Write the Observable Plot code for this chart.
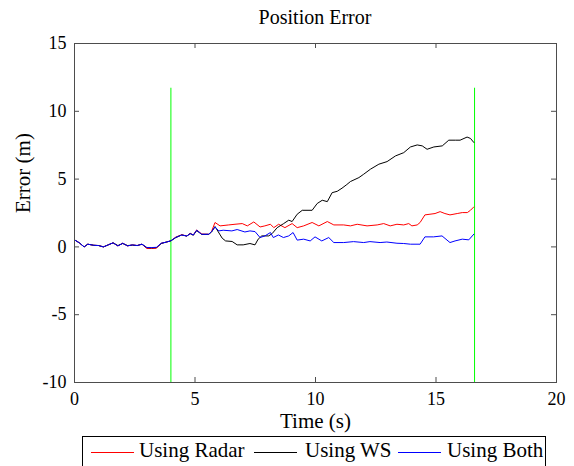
<!DOCTYPE html>
<html><head><meta charset="utf-8">
<script src="https://cdn.jsdelivr.net/npm/d3@7"></script>
<script src="https://cdn.jsdelivr.net/npm/@observablehq/plot@0.6"></script>
<style>
body{margin:0;background:#fff;font-family:"Liberation Serif","Times New Roman",serif;}
#wrap{position:relative;width:574px;height:466px;overflow:hidden;background:#fff;}
#chart{position:absolute;left:0;top:0;}
#title{position:absolute;left:74px;width:482px;top:7px;text-align:center;font-size:20px;line-height:20px;color:#000;}
#legend{position:absolute;left:82px;top:436px;width:464px;height:40px;border:1px solid #000;box-sizing:border-box;background:#fff;}
.sw{position:absolute;top:15px;width:43px;height:0;border-top:1px solid;}
.lab{position:absolute;top:3px;font-size:21px;line-height:21px;white-space:nowrap;color:#000;}
</style></head>
<body><div id="wrap"><div id="chart"></div><div id="title">Position Error</div><div id="legend"></div></div>
<script>
const seriesNames = ["Using Radar", "Using WS", "Using Both"];
const seriesColors = ["#ff0000", "#000000", "#0000ff"];

const radarTime = [0,0.2,0.4,0.55,0.8,1.0,1.2,1.4,1.6,1.8,2.0,2.2,2.4,2.6,2.8,3.0,3.2,3.4,3.6,3.8,4.0,4.2,4.45,4.66,4.8,4.93,5.07,5.28,5.57,5.69,5.83,6.04,6.4,6.66,6.96,7.17,7.44,7.7,7.9,8.13,8.27,8.47,8.73,9.03,9.24,9.51,9.86,10.14,10.49,10.76,11.17,11.45,11.73,12.14,12.56,12.83,13.1,13.38,13.66,13.87,14.0,14.22,14.34,14.54,14.75,14.96,15.17,15.37,15.58,15.88,16.09,16.3,16.43,16.57];
const radarError = [0.52,0.3,0.0,0.2,0.12,0.1,0.0,0.15,0.3,0.07,0.27,0.07,0.15,0.1,0.2,-0.12,-0.12,-0.1,0.27,0.35,0.45,0.72,0.9,0.8,1.0,0.88,1.25,0.95,0.93,1.15,1.8,1.55,1.62,1.67,1.72,1.55,1.84,1.47,1.55,1.67,1.42,1.67,1.42,1.72,1.42,1.55,1.8,1.55,1.87,1.62,1.62,1.55,1.67,1.55,1.62,1.72,1.55,1.67,1.62,1.72,1.55,1.62,1.8,2.36,2.41,2.46,2.6,2.46,2.36,2.46,2.53,2.53,2.7,2.95];

const wsTime = [0,0.2,0.4,0.55,0.8,1.0,1.2,1.4,1.6,1.8,2.0,2.2,2.4,2.6,2.8,3.0,3.2,3.4,3.6,3.8,4.0,4.2,4.45,4.66,4.8,4.93,5.07,5.28,5.57,5.69,5.83,6.13,6.27,6.54,6.75,7.0,7.28,7.49,7.62,7.77,8.06,8.2,8.41,8.68,8.89,9.03,9.24,9.45,9.86,10.07,10.28,10.49,10.69,10.9,11.1,11.3,11.45,11.8,12.0,12.28,12.63,12.97,13.32,13.66,13.94,14.22,14.43,14.63,14.91,15.26,15.53,15.8,16.0,16.29,16.43,16.57];
const wsError = [0.52,0.3,0.0,0.2,0.12,0.1,0.0,0.15,0.3,0.1,0.25,0.1,0.13,0.1,0.2,-0.05,-0.07,-0.05,0.25,0.35,0.45,0.68,0.88,0.8,0.98,0.86,1.2,0.92,0.93,1.1,1.5,0.64,0.44,0.4,0.15,0.15,0.25,0.15,0.57,0.81,0.81,0.98,1.42,1.72,1.97,1.87,2.41,2.7,2.7,3.2,3.44,3.34,4.0,4.1,4.33,4.6,4.82,5.11,5.36,5.73,6.1,6.29,6.71,6.95,7.37,7.52,7.45,7.2,7.37,7.45,7.87,7.87,7.87,8.1,8.0,7.7];

const bothTime = [0,0.2,0.4,0.55,0.8,1.0,1.2,1.4,1.6,1.8,2.0,2.2,2.4,2.6,2.8,3.0,3.2,3.4,3.6,3.8,4.0,4.2,4.45,4.66,4.8,4.93,5.07,5.28,5.57,5.69,5.83,5.99,6.17,6.53,6.75,7.07,7.28,7.49,7.7,7.9,8.13,8.25,8.46,8.67,8.89,9.07,9.24,9.51,9.78,9.98,10.26,10.55,10.76,11.17,11.58,12.0,12.26,12.68,12.96,13.38,13.66,13.94,14.34,14.54,14.9,15.25,15.58,15.79,16.09,16.36,16.57];
const bothError = [0.52,0.3,0.0,0.2,0.12,0.1,0.0,0.15,0.3,0.07,0.27,0.07,0.15,0.1,0.2,-0.05,-0.05,-0.03,0.27,0.35,0.45,0.7,0.88,0.8,0.98,0.88,1.23,0.93,0.93,1.13,1.47,1.18,1.23,1.18,1.28,1.1,1.18,1.13,0.69,0.81,1.06,0.69,0.88,0.69,0.81,1.06,0.5,0.57,0.44,0.74,0.44,0.69,0.32,0.32,0.39,0.32,0.39,0.32,0.36,0.27,0.25,0.2,0.2,0.74,0.74,0.81,0.32,0.44,0.57,0.52,0.94];

const markerTimes = [4.0, 16.6];
const markerBottom = -10;
const markerTop = 11.7;

const xTicks = [0, 5, 10, 15, 20];
const yTicks = [-10, -5, 0, 5, 10, 15];
const xDomain = [0, 20];
const yDomain = [-10, 15];
const xLabel = "Time (s)";
const yLabel = "Error (m)";

const times = [radarTime, wsTime, bothTime];
const errors = [radarError, wsError, bothError];
const rows = seriesNames.flatMap((name, i) => {
  const n = Math.min(times[i].length, errors[i].length);
  return d3.range(n).map(j => ({t: times[i][j], e: errors[i][j], s: name}));
});

const axisColor = "#4d4d4d";
const chart = Plot.plot({
  width: 574,
  height: 430,
  marginLeft: 74,
  marginRight: 18,
  marginTop: 43,
  marginBottom: 48,
  style: {fontFamily: "'Liberation Serif','Times New Roman',serif", fontSize: "18px", background: "white", color: "black", overflow: "visible"},
  x: {domain: xDomain},
  y: {domain: yDomain},
  color: {domain: seriesNames, range: seriesColors},
  marks: [
    Plot.ruleX(markerTimes, {x: d => d, y1: markerBottom, y2: markerTop, stroke: "#00ff00", strokeWidth: 1}),
    Plot.line(rows, {x: "t", y: "e", z: "s", stroke: "s", strokeWidth: 1}),
    Plot.frame({stroke: axisColor, strokeWidth: 1}),
    Plot.tickX(xTicks, {x: d => d, insetTop: 334, stroke: axisColor}),
    Plot.tickX(xTicks, {x: d => d, insetBottom: 334, stroke: axisColor}),
    Plot.tickY(yTicks, {y: d => d, insetRight: 477, stroke: axisColor}),
    Plot.tickY(yTicks, {y: d => d, insetLeft: 477, stroke: axisColor}),
    Plot.axisX(xTicks, {anchor: "bottom", tickSize: 0, tickPadding: 10, tickFormat: d => String(d), label: null}),
    Plot.axisY(yTicks, {anchor: "left", tickSize: 0, tickPadding: 8, tickFormat: d => String(d), label: null}),
    Plot.text([xLabel], {frameAnchor: "bottom", lineAnchor: "middle", dy: 39, text: d => d, fontSize: 21}),
    Plot.text([yLabel], {frameAnchor: "left", lineAnchor: "middle", dx: -51, rotate: -90, text: d => d, fontSize: 21})
  ]
});
document.getElementById("chart").appendChild(chart);

// legend
const legend = document.getElementById("legend");
const swatchLeft = [8, 171, 315];
const labelLeft = [56, 222, 364];
seriesNames.forEach((name, i) => {
  const sw = document.createElement("div");
  sw.className = "sw";
  sw.style.left = swatchLeft[i] + "px";
  sw.style.borderTopColor = seriesColors[i];
  legend.appendChild(sw);
  const lab = document.createElement("div");
  lab.className = "lab";
  lab.style.left = labelLeft[i] + "px";
  lab.textContent = name;
  legend.appendChild(lab);
});
</script>
</body></html>
